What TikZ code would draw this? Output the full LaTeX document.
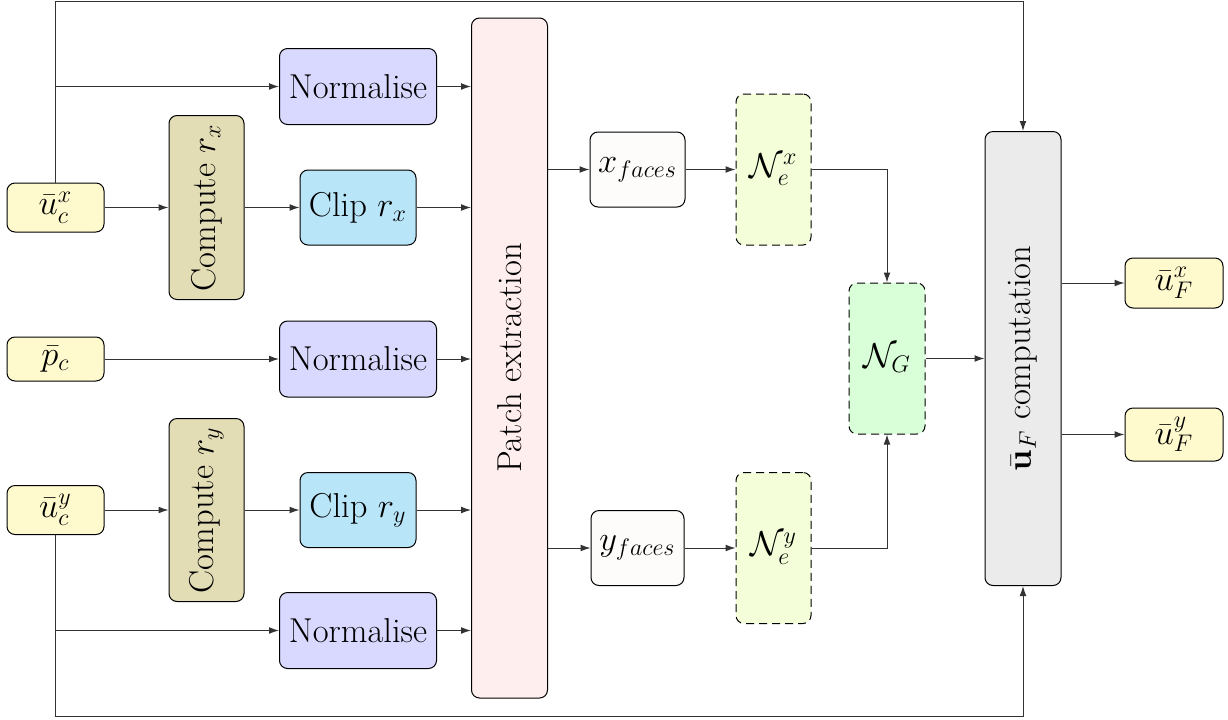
\RequirePackage{fix-cm}
\documentclass[tikz,border=0pt]{standalone}
\usetikzlibrary{arrows.meta}
\definecolor{cin}{RGB}{255,250,205}
\definecolor{cnorm}{RGB}{217,217,255}
\definecolor{ccomp}{RGB}{227,221,182}
\definecolor{cclip}{RGB}{185,229,249}
\definecolor{cpatch}{RGB}{255,238,238}
\definecolor{cface}{RGB}{253,252,250}
\definecolor{cne}{RGB}{244,255,217}
\definecolor{cng}{RGB}{217,255,217}
\definecolor{cuf}{RGB}{235,235,235}
\tikzset{
  box/.style={draw=black, line width=0.5pt, rounded corners=4pt, inner sep=0pt, align=center,
    font=\fontsize{17.28}{20}\selectfont},
  netbox/.style={box, dashed, dash pattern=on 4pt off 2.5pt},
  arr/.style={draw=black!80, line width=0.5pt, -{Latex[length=5pt,width=3.4pt]}},
}
\begin{document}
\begin{tikzpicture}[x=0.5pt, y=-0.5pt]
\useasboundingbox (0,0) rectangle (1228,719);
% inputs
\node[box, fill=cin, minimum width=48.5pt, minimum height=24.5pt] (ux) at (55.5,207.5) {$\bar{u}^x_c$};
\node[box, fill=cin, minimum width=48.5pt, minimum height=22pt] (pc) at (55.5,359) {$\bar{p}_c$};
\node[box, fill=cin, minimum width=48.5pt, minimum height=24.5pt] (uy) at (55.5,510) {$\bar{u}^y_c$};
% normalise
\node[box, fill=cnorm, minimum width=78.5pt, minimum height=38pt] (n1) at (358,86.5) {Normalise};
\node[box, fill=cnorm, minimum width=78.5pt, minimum height=38pt] (n2) at (358,359) {Normalise};
\node[box, fill=cnorm, minimum width=78.5pt, minimum height=38pt] (n3) at (358,630.5) {Normalise};
% compute
\node[box, fill=ccomp, minimum width=37.5pt, minimum height=92pt] (crx) at (206.5,207.5) {\rotatebox{90}{Compute $r_x$}};
\node[box, fill=ccomp, minimum width=37.5pt, minimum height=91.5pt] (cry) at (206.5,510) {\rotatebox{90}{Compute $r_y$}};
% clip
\node[box, fill=cclip, minimum width=58pt, minimum height=37.5pt] (clx) at (358,207.5) {Clip $r_x$};
\node[box, fill=cclip, minimum width=58pt, minimum height=37.5pt] (cly) at (358,510) {Clip $r_y$};
% patch
\node[box, fill=cpatch, minimum width=38pt, minimum height=340pt] (patch) at (509.5,358) {\rotatebox{90}{Patch extraction}};
% faces
\node[box, fill=cface, minimum width=47.5pt, minimum height=37.5pt] (xf) at (637.5,169.5) {$x_{faces}$};
\node[box, fill=cface, minimum width=46.5pt, minimum height=37.5pt] (yf) at (637.5,548) {$y_{faces}$};
% networks
\node[netbox, fill=cne, minimum width=37.5pt, minimum height=75.5pt] (nex) at (773.5,169.5) {$\mathcal{N}^x_e$};
\node[netbox, fill=cne, minimum width=37.5pt, minimum height=75.5pt] (ney) at (773.5,548) {$\mathcal{N}^y_e$};
\node[netbox, fill=cng, minimum width=38pt, minimum height=75.5pt] (ng) at (887,358.5) {$\mathcal{N}_G$};
% uF computation
\node[box, fill=cuf, minimum width=38pt, minimum height=227pt] (uf) at (1023,358.5) {\rotatebox{90}{$\bar{\mathbf{u}}_F$ computation}};
% outputs
\node[box, fill=cin, minimum width=49pt, minimum height=25pt] (ufx) at (1174,283) {$\bar{u}^x_F$};
\node[box, fill=cin, minimum width=49pt, minimum height=26.5pt] (ufy) at (1174,434.5) {$\bar{u}^y_F$};
% coordinates
\coordinate (tl) at (55.5,1);
\coordinate (tr) at (1023,1);
\coordinate (bl) at (55.5,716);
\coordinate (br) at (1023,716);
\coordinate (b1) at (55.5,86.5);
\coordinate (b3) at (55.5,630.5);
% connectors
\draw[arr] (ux.north) -- (tl) -- (tr) -- (uf.north);
\draw[arr] (uy.south) -- (bl) -- (br) -- (uf.south);
\draw[arr] (b1) -- (n1.west);
\draw[arr] (b3) -- (n3.west);
\draw[arr] (ux) -- (crx);
\draw[arr] (crx) -- (clx);
\draw[arr] (uy) -- (cry);
\draw[arr] (cry) -- (cly);
\draw[arr] (pc) -- (n2);
\draw[arr] (n1.east) -- (n1.east -| patch.west);
\draw[arr] (clx.east) -- (clx.east -| patch.west);
\draw[arr] (n2.east) -- (n2.east -| patch.west);
\draw[arr] (cly.east) -- (cly.east -| patch.west);
\draw[arr] (n3.east) -- (n3.east -| patch.west);
\draw[arr] (xf.west -| patch.east) -- (xf.west);
\draw[arr] (yf.west -| patch.east) -- (yf.west);
\draw[arr] (xf) -- (nex);
\draw[arr] (yf) -- (ney);
\draw[arr] (nex.east) -| (ng.north);
\draw[arr] (ney.east) -| (ng.south);
\draw[arr] (ng.east) -- (ng.east -| uf.west);
\draw[arr] (ufx.west -| uf.east) -- (ufx.west);
\draw[arr] (ufy.west -| uf.east) -- (ufy.west);
\end{tikzpicture}
\end{document}
